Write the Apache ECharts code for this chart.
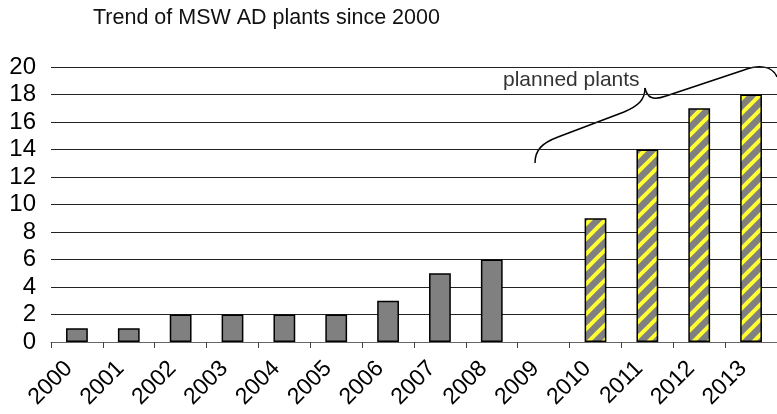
<!DOCTYPE html>
<html>
<head>
<meta charset="utf-8">
<script src="https://cdn.jsdelivr.net/npm/echarts@6/dist/echarts.min.js"></script>
<style>
html,body{margin:0;padding:0;background:#fff;}
#chart{width:777px;height:414px;}
</style>
</head>
<body>
<div id="chart"></div>
<script>
var years = ['2000','2001','2002','2003','2004','2005','2006','2007','2008','2009','2010','2011','2012','2013'];
var builtPlants = [1, 1, 2, 2, 2, 2, 3, 5, 6, '-', '-', '-', '-', '-'];
var plannedPlants = ['-', '-', '-', '-', '-', '-', '-', '-', '-', '-', 9, 14, 17, 18];
var yTicks = [0, 2, 4, 6, 8, 10, 12, 14, 16, 18, 20];
var titleText = 'Trend of MSW AD plants since 2000';
var noteText = 'planned plants';

function stripePattern() {
  var s = 15;
  var c = document.createElement('canvas');
  c.width = s; c.height = s;
  var g = c.getContext('2d');
  g.fillStyle = '#808080';
  g.fillRect(0, 0, s, s);
  g.strokeStyle = '#ffff33';
  g.lineWidth = 4;
  g.beginPath();
  g.moveTo(-s, s); g.lineTo(s, -s);
  g.moveTo(0, s); g.lineTo(s, 0);
  g.moveTo(0, 2 * s); g.lineTo(2 * s, 0);
  g.stroke();
  return c;
}

var braceStyle = {stroke: '#000', lineWidth: 1.5, fill: null};
function bez(a, b, c, d) {
  return {type: 'bezierCurve', silent: true, style: braceStyle,
    shape: {x1: a[0], y1: a[1], cpx1: b[0], cpy1: b[1], cpx2: c[0], cpy2: c[1], x2: d[0], y2: d[1]}};
}
function seg(a, b) {
  return {type: 'line', silent: true, style: braceStyle,
    shape: {x1: a[0], y1: a[1], x2: b[0], y2: b[1]}};
}

var chart = echarts.init(document.getElementById('chart'), null, {renderer: 'canvas'});
var font = 'Liberation Sans, Arial, sans-serif';
chart.setOption({
  animation: false,
  title: {
    text: titleText,
    left: 93, top: 7, padding: 0,
    textStyle: {fontFamily: font, fontSize: 21.5, fontWeight: 'normal', color: '#111'}
  },
  grid: {left: 51, right: 0, top: 67, bottom: 72, containLabel: false},
  xAxis: {
    type: 'category',
    data: years,
    axisLine: {lineStyle: {color: '#666', width: 1}},
    axisTick: {show: true, length: 6, lineStyle: {color: '#444'}},
    axisLabel: {rotate: 45, fontFamily: font, fontSize: 23, color: '#000', margin: 31,
      interval: 0, align: 'right', verticalAlign: 'bottom'}
  },
  yAxis: {
    type: 'value',
    min: yTicks[0], max: yTicks[yTicks.length - 1], interval: 2,
    axisLine: {show: false},
    axisTick: {show: false},
    splitLine: {lineStyle: {color: '#222', width: 1}},
    axisLabel: {fontFamily: font, fontSize: 24, color: '#000', margin: 15}
  },
  series: [
    {
      type: 'bar', data: builtPlants, barWidth: '42%', barGap: '-100%',
      itemStyle: {color: '#808080', borderColor: '#000', borderWidth: 1.5}
    },
    {
      type: 'bar', data: plannedPlants, barWidth: '42%', barGap: '-100%',
      itemStyle: {color: {image: stripePattern(), repeat: 'repeat'}, borderColor: '#000', borderWidth: 1.5}
    }
  ],
  graphic: [
    bez([535,163], [535,150], [542,143], [558,137]),
    seg([558,137], [624,112]),
    bez([624,112], [638,106], [645,100], [645,88]),
    bez([645,88], [647,97], [652,101], [666,96]),
    seg([666,96], [744,70]),
    bez([744,70], [758,65], [772,65], [777,77]),
    {
      type: 'text', left: 503, top: 70, silent: true,
      style: {text: noteText, font: '21px Liberation Sans, Arial, sans-serif', fill: '#333'}
    }
  ]
});
</script>
</body>
</html>
